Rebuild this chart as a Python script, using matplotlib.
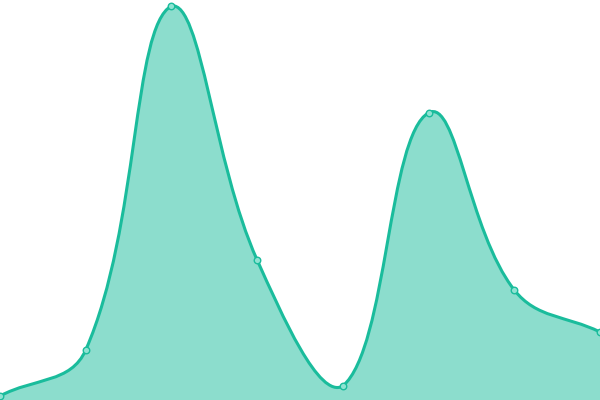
import matplotlib
matplotlib.use("Agg")
import matplotlib.pyplot as plt
from matplotlib.path import Path
from matplotlib.patches import PathPatch
import numpy as np

# data (y axis runs 0..100)
labels = ["A", "B", "C", "D", "E", "F", "G", "H"]
values = [1.0, 12.5, 98.5, 35.0, 3.5, 71.8, 27.5, 17.0]

line_color = "#1abc9c"
fill_color = (26 / 255, 188 / 255, 156 / 255, 0.5)
tension = 0.4


def spline_controls(pts, t):
    # chart.js style cardinal spline control points, in pixel space
    n = len(pts)
    ctrl = []
    for i in range(n):
        prev = pts[max(i - 1, 0)]
        cur = pts[i]
        nxt = pts[min(i + 1, n - 1)]
        d01 = np.hypot(*(cur - prev))
        d12 = np.hypot(*(nxt - cur))
        tot = d01 + d12
        s01 = d01 / tot if tot else 0
        s12 = d12 / tot if tot else 0
        fa = t * s01
        fb = t * s12
        ctrl.append((cur - fa * (nxt - prev), cur + fb * (nxt - prev)))
    return ctrl


fig = plt.figure(figsize=(6, 4), dpi=100)
ax = fig.add_axes([0, 0, 1, 1])
x = np.arange(len(values))
ax.set_xlim(0, len(values) - 1)
ax.set_ylim(0, 100)
ax.axis("off")

pix = ax.transData.transform(np.column_stack([x, values]))
ctrl = spline_controls(pix, tension)
W, H = fig.canvas.get_width_height()

verts = [pix[0]]
codes = [Path.MOVETO]
for i in range(len(pix) - 1):
    c1 = ctrl[i][1].copy()
    c2 = ctrl[i + 1][0].copy()
    for c in (c1, c2):
        c[0] = np.clip(c[0], 0, W)
        c[1] = np.clip(c[1], 0, H)
    verts += [c1, c2, pix[i + 1]]
    codes += [Path.CURVE4] * 3

inv = ax.transData.inverted()
line_verts = inv.transform(np.array(verts))

fill_path = Path(np.vstack([line_verts, [[x[-1], 0], [x[0], 0], line_verts[0]]]),
                 codes + [Path.LINETO, Path.LINETO, Path.CLOSEPOLY])
ax.add_patch(PathPatch(fill_path, facecolor=fill_color, edgecolor="none"))
ax.add_patch(PathPatch(Path(line_verts, codes), facecolor="none",
                       edgecolor=line_color, lw=2.2, capstyle="round"))

ax.scatter(x, values, s=22, facecolor="#8fe3d2", edgecolor=line_color,
           linewidth=1, zorder=3, clip_on=False)

fig.savefig("out.png", dpi=100)
